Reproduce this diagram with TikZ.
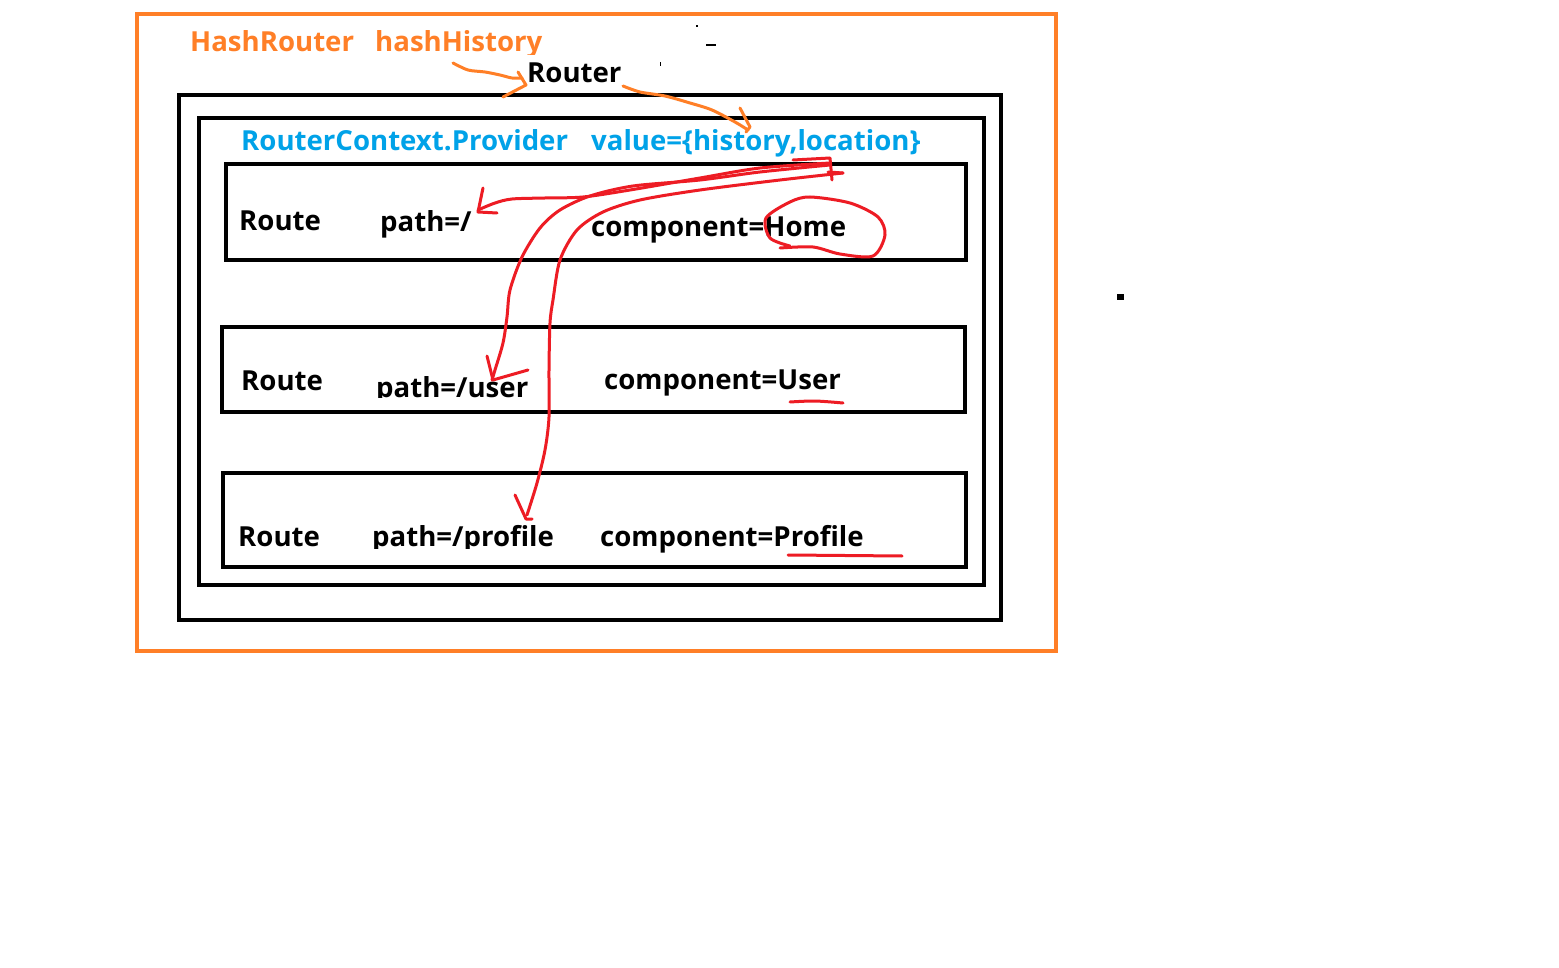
\documentclass[tikz,border=0pt]{standalone}
\usepackage{fontspec}
\setmainfont{Open Sans}
\definecolor{porange}{RGB}{255,127,39}
\definecolor{pblue}{RGB}{0,162,232}
\definecolor{pred}{RGB}{237,28,36}
\begin{document}
\begin{tikzpicture}[x=1pt,y=-1pt,
  txt/.style={anchor=base west,inner sep=0pt,font=\bfseries\fontsize{27.6}{32}\selectfont},
  box/.style={draw=black,line width=4pt},
  ink/.style={draw=pred,line width=3pt,line cap=round,line join=round},
  oink/.style={draw=porange,line width=3pt,line cap=round,line join=round}]
\fill[white] (0,0) rectangle (1559,968);
\useasboundingbox (0,0) rectangle (1559,968);
% frames
\draw[draw=porange,line width=4pt] (137,14) rectangle (1056,651);
\draw[box] (179,95) rectangle (1001,620);
\draw[box] (199,118) rectangle (984,585);
\draw[box] (226,164) rectangle (966,260);
\draw[box] (222,327) rectangle (965,412);
\draw[box] (223,473) rectangle (966,567);
% texts
\node[txt,porange] (hr) at (190,52) {HashRouter};
\begin{scope}
\clip (370,20) rectangle (560,54.5);
\node[txt,porange] (hh) at (375,52) {hashHistory};
\end{scope}
\node[txt] (router) at (527,83) {Router};
\node[txt,pblue] (rcp) at (241,151) {RouterContext.Provider};
\node[txt,pblue] (val) at (591,151) {value=\{history,location\}};
\node[txt] (r1) at (239,231) {Route};
\node[txt] (p1) at (380,232) {path=/};
\node[txt] (c1) at (591,237) {component=Home};
\node[txt] (r2) at (241,391) {Route};
\begin{scope}
\clip (370,360) rectangle (560,398);
\node[txt] (p2) at (376,397) {path=/user};
\end{scope}
\node[txt] (c2) at (604,389) {component=User};
\node[txt] (r3) at (238,546) {Route};
\begin{scope}
\clip (365,510) rectangle (580,548);
\node[txt] (p3) at (372,546) {path=/profile};
\end{scope}
\node[txt] (c3) at (600,546) {component=Profile};
% small marks
\fill (1117,294) rectangle (1124,300);
\fill (696,25) rectangle (698,27);
\fill (706,44) rectangle (716,46);
\fill (660,62) rectangle (661,66);
% orange strokes
\draw[oink] plot[smooth] coordinates {(453,63) (468,70) (485,72) (500,75) (512,78) (522,78)};
\draw[oink] (518,72) -- (526,85) -- (503,97);
\draw[oink] plot[smooth] coordinates {(623,86) (640,92) (665,96) (690,103) (712,110) (735,122) (748,130)};
\draw[oink] (740,108) -- (750,127) -- (746,132);
% red strokes
\draw[ink] (483,188) -- (478,212) -- (497,213);
\draw[ink] plot[smooth] coordinates {(478,210) (495,203) (512,199) (545,198) (583,197) (630,190) (700,178) (760,168) (830,163)};
\draw[ink] plot[smooth] coordinates {(830,165) (760,172) (700,180) (633,186) (590,196) (560,210) (540,228) (522,257) (510,290) (507,317) (503,343) (495,370) (492,380)};
\draw[ink] (487,356) -- (493,380) -- (528,370);
\draw[ink] plot[smooth] coordinates {(843,173) (780,180) (700,190) (640,200) (603,212) (577,230) (560,260) (553,300) (550,323) (549,370) (549,417) (545,450) (537,483) (527,515)};
\draw[ink] (515,495) -- (526,519) -- (532,519);
\draw[ink] (793,160) -- (830,158) -- (832,180);
\draw[ink] (828,172) -- (843,173);
% Home loop
\draw[ink] plot[smooth] coordinates {(780,248) (813,247) (840,254) (873,256) (885,235) (878,217) (850,203) (810,197) (790,202) (766,218) (770,238) (790,246)};
% underlines
\draw[ink] plot[smooth] coordinates {(790,402) (815,401) (843,403)};
\draw[ink] (788,555) -- (902,556);
\end{tikzpicture}
\end{document}
